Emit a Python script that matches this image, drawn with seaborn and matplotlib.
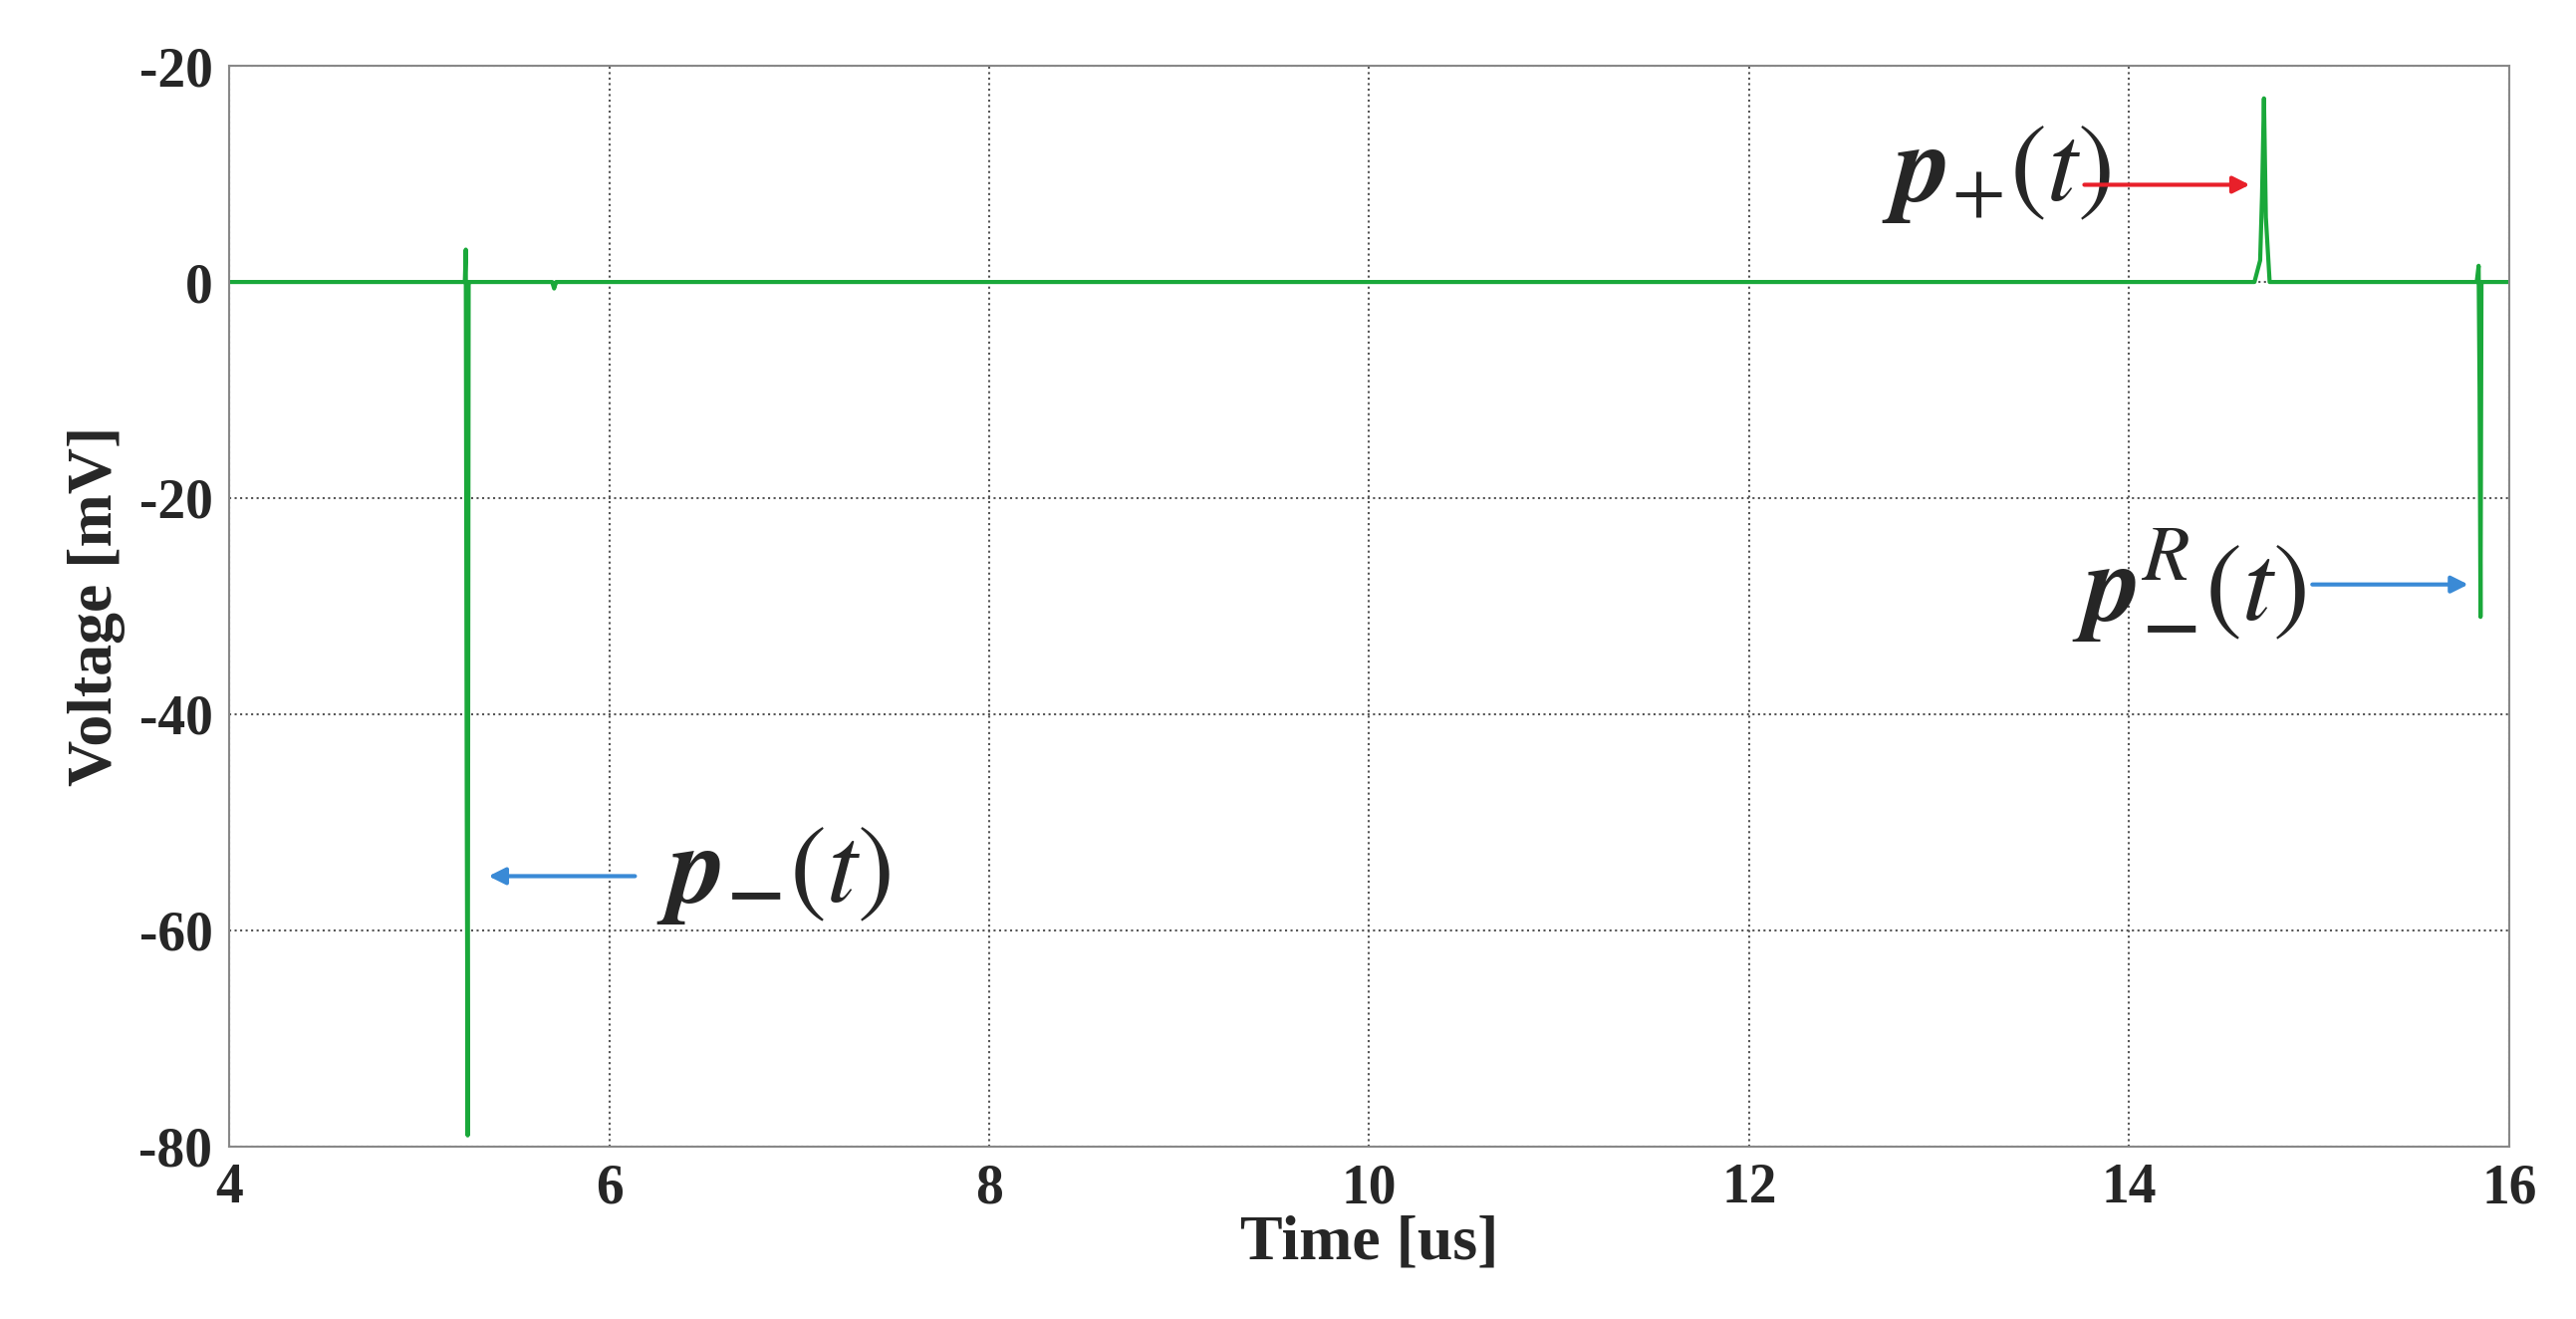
import numpy as np
import pandas as pd
import matplotlib
matplotlib.use("Agg")
import matplotlib.pyplot as plt
import seaborn as sns

# time [us] and voltage [mV]
time_us = [4.0, 5.24, 5.245, 5.25, 5.255, 5.26, 5.27, 5.7, 5.71, 5.72, 5.73,
           14.66, 14.69, 14.70, 14.71, 14.72, 14.74, 15.83, 15.84, 15.845, 15.85, 15.855, 15.86, 16.0]
volt_mv = [0.0, 0.0, 3.0, -47.0, -79.0, 0.0, 0.0, 0.0, -0.6, 0.0, 0.0,
           0.0, 2.0, 8.0, 17.0, 6.0, 0.0, 0.0, 1.5, -10.0, -31.0, 0.0, 0.0, 0.0]
y_ticks = [-80, -60, -40, -20, 0, 20]
y_tick_labels = ['-80', '-60', '-40', '-20', '0', '-20']
x_ticks = [4, 6, 8, 10, 12, 14, 16]

df = pd.DataFrame({'t': time_us, 'v': volt_mv})

sns.set_style("white")
plt.rcParams['font.family'] = ['Liberation Serif', 'DejaVu Serif']
plt.rcParams['mathtext.fontset'] = 'stix'

fig = plt.figure(figsize=(25.86, 13.24), dpi=100)
ax = fig.add_axes([0.089, 0.131, 0.885, 0.819])
sns.lineplot(data=df, x='t', y='v', ax=ax, color='#1aa83a', linewidth=3,
             estimator=None, sort=False)

ax.set_xlim(4, 16)
ax.set_ylim(-80, 20)
ax.set_xticks(x_ticks)
ax.set_yticks(y_ticks)
ax.set_yticklabels(y_tick_labels)
ax.grid(True, linestyle=':', color='#555555', linewidth=1.5)
for s in ax.spines.values():
    s.set_color('#888888')
    s.set_linewidth(1.5)
ax.tick_params(labelsize=40, direction='in', length=8, color='#888888', pad=12)
for t in ax.get_xticklabels() + ax.get_yticklabels():
    t.set_fontweight('bold')
ax.set_xlabel('Time [us]', fontsize=46, fontweight='bold', labelpad=0)
ax.set_ylabel('Voltage [mV]', fontsize=46, fontweight='bold', labelpad=10)

lab = dict(fontsize=80, fontweight='bold')
ax.text(6.25, -55, r'$\boldsymbol{p}_{\boldsymbol{-}}(t)$', va='center', **lab)
ax.annotate('', xy=(5.35, -55), xytext=(6.15, -55),
            arrowprops=dict(arrowstyle='-|>', color='#3a8ad6', lw=3, mutation_scale=25))
ax.text(12.7, 10, r'$\boldsymbol{p}_{+}(t)$', va='center', **lab)
ax.annotate('', xy=(14.65, 9), xytext=(13.75, 9),
            arrowprops=dict(arrowstyle='-|>', color='#e8202a', lw=3, mutation_scale=25))
ax.text(13.7, -28, r'$\boldsymbol{p}_{\boldsymbol{-}}^{R}(t)$', va='center', **lab)
ax.annotate('', xy=(15.8, -28), xytext=(14.95, -28),
            arrowprops=dict(arrowstyle='-|>', color='#3a8ad6', lw=3, mutation_scale=25))

fig.savefig('out.png', dpi=100)
